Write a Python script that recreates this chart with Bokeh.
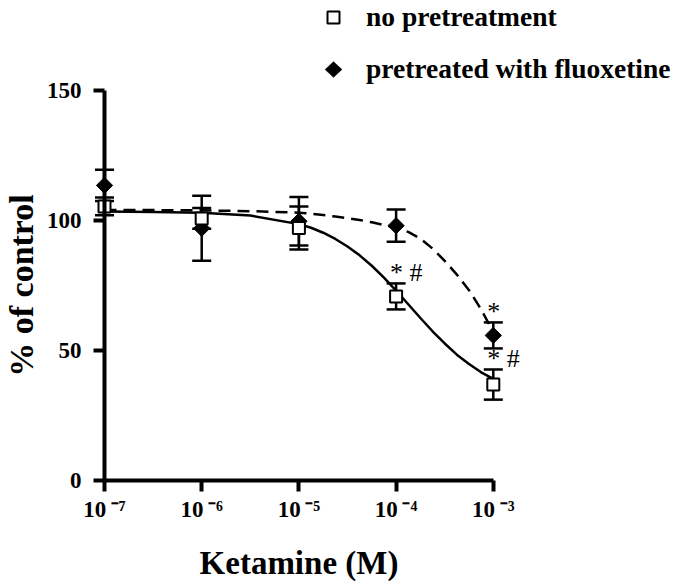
import math
from bokeh.plotting import figure
from bokeh.models import (Range1d, FixedTicker, Legend, LegendItem, PolyAnnotation,
                          ColumnDataSource)
from bokeh.core.properties import value
from bokeh.embed import file_html
from bokeh.resources import INLINE

# ---------------- data ----------------
log_dose = [-7, -6, -5, -4, -3]
x_tick_labels = ["10\u2009⁻⁷", "10\u2009⁻⁶", "10\u2009⁻⁵", "10\u2009⁻⁴", "10\u2009⁻³"]
y_ticks = [0, 50, 100, 150]

no_pre_mean = [105.4, 100.8, 97.1, 70.8, 36.9]
no_pre_err = [3.4, 4.0, 8.3, 5.0, 5.8]
fluox_mean = [113.5, 97.0, 99.7, 98.0, 55.8]
fluox_err = [6.0, 12.5, 9.3, 6.2, 5.0]

curve_x = [-7, -6.5, -6, -5.5, -5, -4.875, -4.75, -4.625, -4.5, -4.375, -4.25,
           -4.125, -4, -3.875, -3.75, -3.625, -3.5, -3.375, -3.25, -3.125, -3]
curve_no_pre = [103.5, 103.3, 103.0, 101.9, 98.6, 97.2, 95.3, 92.9, 90.0, 86.6, 82.6,
                78.0, 73.0, 67.8, 62.5, 57.4, 52.7, 48.4, 44.8, 41.6, 39.1]
curve_fluox = [104.0, 104.0, 103.9, 103.6, 103.0, 102.6, 102.1, 101.5, 100.9, 100.2, 99.3,
               98.3, 97.2, 95.6, 93.0, 89.2, 84.5, 79.2, 73.2, 65.8, 57.0]

sig_series = ["no_pre", "no_pre", "fluox"]
sig_dose_index = [3, 4, 4]
sig_text = ["* #", "*  #", "*"]

legend_labels = ["no pretreatment", "pretreated with fluoxetine"]
x_label = "Ketamine (M)"
y_label = "% of control"

# ---------------- layout ----------------
FONT = "Liberation Serif"
W, H = 680, 586
AXIS_X_PX = 104      # pixel column of the y axis (x = 1e-7)
AXIS_Y_PX = 480      # pixel row of the x axis (y = 0)
PX_PER_DEC = 97.2
PX_PER_UNIT = 2.6

x_start = log_dose[0] - AXIS_X_PX / PX_PER_DEC
x_end = x_start + W / PX_PER_DEC
y_start = -(H - AXIS_Y_PX) / PX_PER_UNIT
y_end = AXIS_Y_PX / PX_PER_UNIT

p = figure(width=W, height=H, x_range=Range1d(x_start, x_end), y_range=Range1d(y_start, y_end),
           output_backend="svg", toolbar_location=None,
           min_border_left=0, min_border_right=0, min_border_top=0, min_border_bottom=0)
p.outline_line_color = None
p.xgrid.visible = False
p.ygrid.visible = False
p.background_fill_color = "white"
p.border_fill_color = "white"

for ax in (p.xaxis, p.yaxis):
    ax.axis_line_width = 4
    ax.axis_line_color = "black"
    ax.major_tick_line_width = 4
    ax.major_tick_line_color = "black"
    ax.major_tick_out = 11
    ax.major_tick_in = 0
    ax.minor_tick_line_color = None
    ax.major_label_text_font = FONT
    ax.major_label_text_font_style = "bold"
    ax.major_label_text_font_size = "23px"
    ax.major_label_text_color = "black"
    ax.axis_label_text_font = FONT
    ax.axis_label_text_font_style = "bold"
    ax.axis_label_text_color = "black"

p.xaxis.axis_label_text_font_size = "33px"
p.yaxis.axis_label_text_font_size = "34px"
p.xaxis.fixed_location = 0
p.yaxis.fixed_location = log_dose[0]
p.xaxis.bounds = (log_dose[0], log_dose[-1])
p.yaxis.bounds = (y_ticks[0], y_ticks[-1])
p.xaxis.ticker = FixedTicker(ticks=log_dose)
p.xaxis.major_label_overrides = {t: s for t, s in zip(log_dose, x_tick_labels)}
p.yaxis.ticker = FixedTicker(ticks=y_ticks)
p.xaxis.major_label_standoff = 5
p.yaxis.major_label_standoff = 12
p.xaxis.axis_label = x_label
p.yaxis.axis_label = y_label
p.xaxis.axis_label_standoff = 20
p.yaxis.axis_label_standoff = 4

# ---------------- curves ----------------
p.line(curve_x, curve_no_pre, line_color="black", line_width=2.5)
p.line(curve_x, curve_fluox, line_color="black", line_width=2.5, line_dash="12 7")

def err_source(mean, err):
    return ColumnDataSource(dict(x=log_dose, y=mean,
                                 lo=[m - e for m, e in zip(mean, err)],
                                 hi=[m + e for m, e in zip(mean, err)]))

src_np = err_source(no_pre_mean, no_pre_err)
src_fl = err_source(fluox_mean, fluox_err)

def draw_err(src):
    p.segment("x", "lo", "x", "hi", source=src, line_color="black", line_width=2.5)
    p.scatter("x", "lo", source=src, marker="dash", size=19, line_color="black", line_width=2.5)
    p.scatter("x", "hi", source=src, marker="dash", size=19, line_color="black", line_width=2.5)

draw_err(src_fl)
dm = p.scatter("x", "y", source=src_fl, marker="square", angle=math.pi / 4, size=11.5,
               fill_color="black", line_color="black", line_width=1)
draw_err(src_np)
sq = p.scatter("x", "y", source=src_np, marker="square", size=12,
               fill_color="white", line_color="black", line_width=2)

# ---------------- significance marks ----------------
tops = {"no_pre": src_np.data["hi"], "fluox": src_fl.data["hi"]}
sig_src = ColumnDataSource(dict(
    x=[log_dose[i] for i in sig_dose_index],
    y=[tops[s][i] for s, i in zip(sig_series, sig_dose_index)],
    text=sig_text))
p.text("x", "y", text="text", source=sig_src, text_font=value(FONT),
       text_font_size="26px", text_align="left", text_baseline="middle",
       x_offset=-6, y_offset=-11, text_color="black")

# ---------------- legend ----------------
dummy = p.scatter(x=[], y=[], marker="square", size=1, fill_alpha=0, line_alpha=0)
legend = Legend(items=[LegendItem(label=legend_labels[0], renderers=[sq]),
                       LegendItem(label=legend_labels[1], renderers=[dummy])],
                location=(318, 501), orientation="vertical",
                glyph_width=30, glyph_height=30, label_height=30, spacing=20,
                padding=0, margin=0, label_standoff=18,
                border_line_alpha=0, background_fill_alpha=0,
                label_text_font=FONT, label_text_font_style="bold",
                label_text_font_size="27.5px", label_text_color="black")
p.add_layout(legend)

cx, cy = 333, 517
p.add_layout(PolyAnnotation(xs=[cx, cx + 8.5, cx, cx - 8.5], ys=[cy + 8, cy, cy - 8, cy],
                            xs_units="screen", ys_units="screen",
                            fill_color="black", fill_alpha=1, line_color="black", line_width=1))

open("out.html", "w").write(file_html(p, INLINE))
